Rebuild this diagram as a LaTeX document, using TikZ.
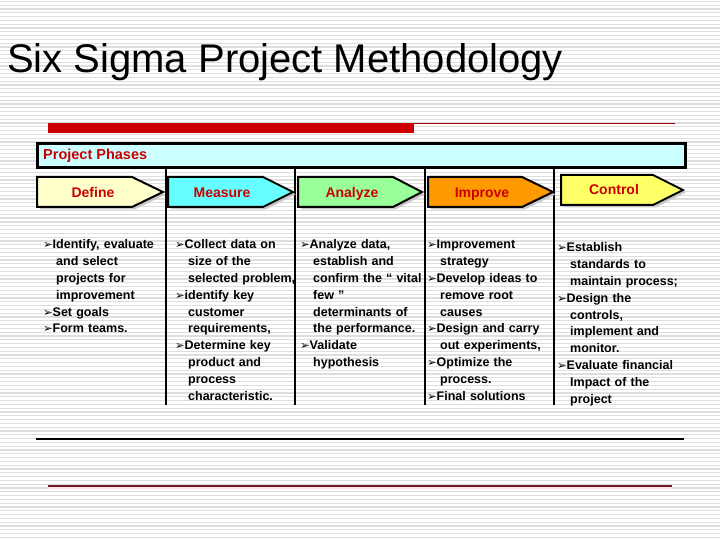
\documentclass[tikz,border=0pt]{standalone}
\usepackage{fontspec}
\setmainfont{Liberation Sans}
\newfontfamily\symf{DejaVu Sans}
\definecolor{labred}{HTML}{CC0000}
\definecolor{stripegray}{RGB}{222,222,222}
\definecolor{phasebox}{HTML}{CCFFFF}
\definecolor{cdefine}{HTML}{FFFFCC}
\definecolor{cmeasure}{HTML}{66FFFF}
\definecolor{canalyze}{HTML}{99FF99}
\definecolor{cimprove}{HTML}{FF9900}
\definecolor{ccontrol}{HTML}{FFFF66}
\definecolor{maroon}{RGB}{105,30,45}
\newcommand{\bul}{{\symf\fontsize{11.5}{11.5}\selectfont ➢}}
\newcommand{\bitem}{\par\hangindent=13pt\hangafter=1\noindent\strut\makebox[9.5pt][l]{\bul}}
\newcommand{\phasearrow}[6]{%
  \fill[black!22] ({#1+2.5},{#4+2.5}) -- ({#2+2.5},{#4+2.5}) -- ({#3+2.5},{(#4+#5)/2+2.5}) -- ({#2+2.5},{#5+2.5}) -- ({#1+2.5},{#5+2.5}) -- cycle;
  \draw[line width=2pt,fill=#6,line join=miter] (#1,#4) -- (#2,#4) -- (#3,{(#4+#5)/2}) -- (#2,#5) -- (#1,#5) -- cycle;}
\tikzset{
  stripe/.style={stripegray,line width=1.2pt},
  phaselabel/.style={font=\bfseries\fontsize{14}{16}\selectfont,text=labred,inner sep=0pt,anchor=base},
  coltext/.style={anchor=north west,inner sep=0pt,text width=150pt,align=left,
    font=\bfseries\fontsize{12.5}{16.8}\selectfont},
  divider/.style={line width=2pt,black}
}
\begin{document}
\begin{tikzpicture}[x=1pt,y=-1pt]
\useasboundingbox (0,0) rectangle (720,540);
\fill[white] (0,0) rectangle (720,540);
\foreach \i in {0,...,142} \draw[stripe] (0,{1.5+\i*3.8}) -- (720,{1.5+\i*3.8});
% title
\node[anchor=base west,inner sep=0pt,font=\fontsize{40}{44}\selectfont] (title) at (7,73) {Six Sigma Project Methodology};
% red bar
\fill[labred] (48,123) rectangle (414,133);
\draw[labred!80!black,line width=1pt] (414,123.5) -- (675,123.5);
% project phases box
\draw[line width=3pt,fill=phasebox] (37,144) rectangle (685,168);
\node[anchor=west,inner sep=0pt,font=\bfseries\fontsize{14.5}{16}\selectfont,text=labred] (pp) at (43,156) {Project Phases};
% dividers
\draw[divider] (166,169.5) -- (166,405);
\draw[divider] (295,169.5) -- (295,405);
\draw[divider] (425,169.5) -- (425,405);
\draw[divider] (554,169.5) -- (554,405);
% phase arrows
\phasearrow{37}{132}{163}{177}{207}{cdefine}
\phasearrow{168}{263}{293}{177}{207}{cmeasure}
\phasearrow{298}{393}{422}{177}{207}{canalyze}
\phasearrow{428}{522}{553}{177}{207}{cimprove}
\phasearrow{561}{653}{683}{175}{205}{ccontrol}
\node[phaselabel] (define) at (93,197) {Define};
\node[phaselabel] (measure) at (222,197) {Measure};
\node[phaselabel] (analyze) at (352,197) {Analyze};
\node[phaselabel] (improve) at (482,197) {Improve};
\node[phaselabel] (control) at (614,195) {Control};
% column texts
\node[coltext] (tdefine) at (43,232) {%
\bitem Identify, evaluate\newline and select\newline projects for\newline improvement
\bitem Set goals
\bitem Form teams.\par};
\node[coltext] (tmeasure) at (175,232) {%
\bitem Collect data on\newline size of the\newline selected problem,
\bitem identify key\newline customer\newline requirements,
\bitem Determine key\newline product and\newline process\newline characteristic.\par};
\node[coltext] (tanalyze) at (300,232) {%
\bitem Analyze data,\newline establish and\newline confirm the “ vital\newline few ”\newline determinants of\newline the performance.
\bitem Validate\newline hypothesis\par};
\node[coltext] (timprove) at (427,232) {%
\bitem Improvement\newline strategy
\bitem Develop ideas to\newline remove root\newline causes
\bitem Design and carry\newline out experiments,
\bitem Optimize the\newline process.
\bitem Final solutions\par};
\node[coltext] (tcontrol) at (557,235) {%
\bitem Establish\newline standards to\newline maintain process;
\bitem Design the\newline controls,\newline implement and\newline monitor.
\bitem Evaluate financial\newline Impact of the\newline project\par};
% bottom lines
\draw[line width=1.5pt,black] (36,439) -- (684,439);
\draw[line width=2pt,red!12] (48,488) -- (672,488);
\draw[line width=1.2pt,maroon] (48,486) -- (672,486);
\end{tikzpicture}
\end{document}
